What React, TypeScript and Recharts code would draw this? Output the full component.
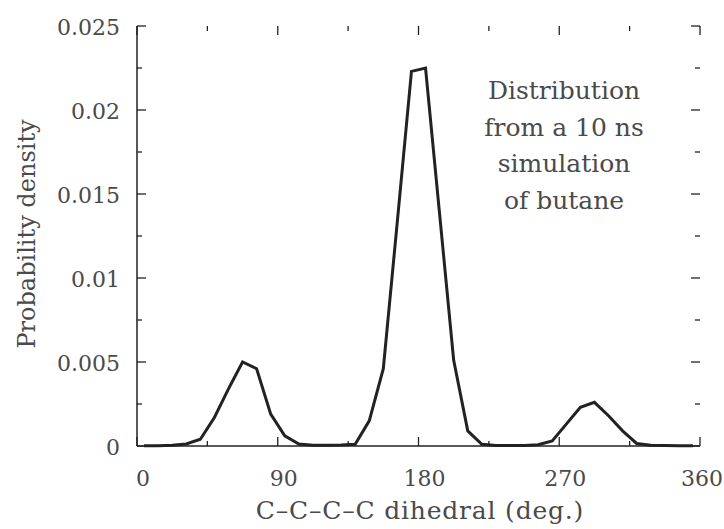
import React from 'react';
import { LineChart, Line, XAxis, YAxis, Customized } from 'recharts';

const dihedral = [
  4.5, 13.5, 22.5, 31.5, 40.5, 49.5, 58.5, 67.5, 76.5, 85.5,
  94.5, 103.5, 112.5, 121.5, 130.5, 139.5, 148.5, 157.5, 166.5, 175.5,
  184.5, 193.5, 202.5, 211.5, 220.5, 229.5, 238.5, 247.5, 256.5, 265.5,
  274.5, 283.5, 292.5, 301.5, 310.5, 319.5, 328.5, 337.5, 346.5, 355.5,
];
const density = [
  0.00002, 0.00002, 0.00004, 0.00012, 0.0004, 0.0017, 0.0034, 0.005, 0.0046, 0.0019,
  0.0006, 0.00012, 0.00005, 0.00005, 0.00006, 0.0001, 0.0015, 0.0046, 0.0134, 0.0223,
  0.0225, 0.0138, 0.0051, 0.0009, 0.0001, 0.00003, 0.00003, 0.00003, 0.00008, 0.0003,
  0.0013, 0.0023, 0.0026, 0.0018, 0.0009, 0.00015, 0.00004, 0.00003, 0.00002, 0.00002,
];
const xTicks = [0, 45, 90, 135, 180, 225, 270, 315, 360];
const xLabels = ['0', '90', '180', '270', '360'];
const yTicks = [0, 0.0025, 0.005, 0.0075, 0.01, 0.0125, 0.015, 0.0175, 0.02, 0.0225, 0.025];
const yLabels = ['0', '0.005', '0.01', '0.015', '0.02', '0.025'];
const annotation = ['Distribution', 'from a 10 ns', 'simulation', 'of butane'];

const data = dihedral.map((d, i) => ({ d, p: density[i] }));

const FONT = '"DejaVu Serif", serif';
const TEXT = '#4a4a4a';
const INK = '#222';

const CHART_W = 724;
const CHART_H = 529;
const MARGIN = { top: 26, right: 24, bottom: 43, left: 57 };
const Y_AXIS_W = 80;
const X_AXIS_H = 40;
const PLOT_W = CHART_W - MARGIN.left - MARGIN.right - Y_AXIS_W;
const PLOT_H = CHART_H - MARGIN.top - MARGIN.bottom - X_AXIS_H;

const isMajorX = (v: number) => v % 90 === 0;
const isMajorY = (v: number) => Math.round(v / 0.0025) % 2 === 0;

const BottomTick = (props: any) => {
  const { x, y, payload } = props;
  const major = isMajorX(payload.value);
  const len = major ? 9 : 5;
  const idx = payload.value / 90;
  const top = y - PLOT_H;
  const shift = idx === 4 ? 2 : 6;
  return (
    <g>
      <line x1={x} x2={x} y1={y} y2={y - len} stroke={INK} strokeWidth={1.3} />
      <line x1={x} x2={x} y1={top} y2={top + len} stroke={INK} strokeWidth={1.3} />
      {major && (
        <text x={x + shift} y={y + 40} textAnchor="middle" fontFamily={FONT} fontSize={22} fill={TEXT}>
          {xLabels[idx]}
        </text>
      )}
    </g>
  );
};

const LeftTick = (props: any) => {
  const { x, y, payload } = props;
  const major = isMajorY(payload.value);
  const len = major ? 9 : 5;
  const idx = Math.round(payload.value / 0.005);
  const right = x + PLOT_W;
  return (
    <g>
      <line x1={x} x2={x + len} y1={y} y2={y} stroke={INK} strokeWidth={1.3} />
      <line x1={right} x2={right - len} y1={y} y2={y} stroke={INK} strokeWidth={1.3} />
      {major && (
        <text x={x - 17} y={y + 9} textAnchor="end" fontFamily={FONT} fontSize={22} fill={TEXT}>
          {yLabels[idx]}
        </text>
      )}
    </g>
  );
};

const Texts = () => (
  <g fontFamily={FONT} fill={TEXT}>
    <text x={27} y={234} fontSize={24} textAnchor="middle" dominantBaseline="central" transform="rotate(-90 27 234)">
      Probability density
    </text>
    <text x={420} y={510} fontSize={25} letterSpacing={0.8} textAnchor="middle" dominantBaseline="central">
      C–C–C–C dihedral (deg.)
    </text>
    {annotation.map((t, i) => (
      <text key={t} x={564} y={99 + i * 36.7} fontSize={25} textAnchor="middle">
        {t}
      </text>
    ))}
  </g>
);

export default function App() {
  return (
    <div>
      <style>{`body{margin:0;overflow:hidden;}`}</style>
      <LineChart width={CHART_W} height={CHART_H} data={data} margin={MARGIN}>
        <XAxis
          xAxisId="b"
          dataKey="d"
          type="number"
          domain={[0, 360]}
          ticks={xTicks}
          interval={0}
          height={X_AXIS_H}
          tickSize={0}
          tickMargin={0}
          tickLine={false}
          axisLine={{ stroke: INK, strokeWidth: 1.5 }}
          tick={<BottomTick />}
        />
        <XAxis
          xAxisId="t"
          orientation="top"
          dataKey="d"
          type="number"
          domain={[0, 360]}
          height={0}
          tick={false}
          tickLine={false}
          axisLine={{ stroke: INK, strokeWidth: 1.5 }}
        />
        <YAxis
          yAxisId="l"
          type="number"
          domain={[0, 0.025]}
          ticks={yTicks}
          interval={0}
          width={Y_AXIS_W}
          tickSize={0}
          tickMargin={0}
          tickLine={false}
          axisLine={{ stroke: INK, strokeWidth: 1.5 }}
          tick={<LeftTick />}
        />
        <YAxis
          yAxisId="r"
          orientation="right"
          type="number"
          domain={[0, 0.025]}
          width={0}
          tick={false}
          tickLine={false}
          axisLine={{ stroke: INK, strokeWidth: 1.5 }}
        />
        <Line
          xAxisId="b"
          yAxisId="l"
          type="linear"
          dataKey="p"
          stroke={INK}
          strokeWidth={3}
          dot={false}
          isAnimationActive={false}
        />
        <Customized component={Texts} />
      </LineChart>
    </div>
  );
}
